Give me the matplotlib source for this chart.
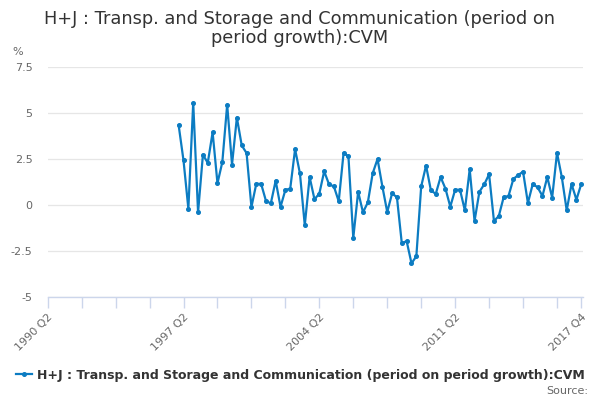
#!/usr/bin/env python3
import numpy as np
import matplotlib
matplotlib.use("Agg")
import matplotlib.pyplot as plt

# quarterly axis from 1990 Q2 to 2017 Q4
start_year, start_q = 1990, 2
n_quarters = 111
labels = []
for k in range(n_quarters):
    q = start_q - 1 + k
    labels.append(f"{start_year + q // 4} Q{q % 4 + 1}")

# series starts at 1997 Q1 (index 27)
first_idx = 27
growth = [
    4.33, 2.42, -0.2, 5.55, -0.4, 2.73, 2.29, 3.95, 1.18, 2.33,
    5.45, 2.2, 4.75, 3.24, 2.82, -0.11, 1.15, 1.15, 0.22, 0.09,
    1.32, -0.1, 0.82, 0.89, 3.03, 1.72, -1.1, 1.52, 0.31, 0.62,
    1.83, 1.12, 1.01, 0.2, 2.83, 2.64, -1.79, 0.72, -0.4, 0.14,
    1.72, 2.5, 1.0, -0.38, 0.63, 0.42, -2.08, -1.96, -3.17, -2.79,
    1.01, 2.14, 0.8, 0.6, 1.52, 0.89, -0.09, 0.83, 0.83, -0.29,
    1.94, -0.87, 0.72, 1.12, 1.67, -0.87, -0.6, 0.42, 0.49, 1.41,
    1.63, 1.81, 0.11, 1.14, 0.96, 0.49, 1.52, 0.4, 2.83, 1.5,
    -0.29, 1.14, 0.29, 1.14,
]
series_name = "H+J : Transp. and Storage and Communication (period on period growth):CVM"
title = "H+J : Transp. and Storage and Communication (period on\nperiod growth):CVM"

y_ticks = [-5, -2.5, 0, 2.5, 5, 7.5]
y_ticklabels = ["-5", "-2.5", "0", "2.5", "5", "7.5"]

x = np.arange(first_idx, first_idx + len(growth))

fig = plt.figure(figsize=(6, 4), dpi=100)
ax = fig.add_axes([47.7 / 600, 103 / 400, 535.5 / 600, 230 / 400])

blue = "#0c7cc2"
ax.plot(x, growth, color=blue, lw=1.6, marker="o", ms=2.6, label=series_name)

ax.set_xlim(0, 110.4)
ax.set_ylim(-5, 7.5)
ax.set_yticks(y_ticks)
ax.set_yticklabels(y_ticklabels)
ax.grid(axis="y", color="#e6e6e6", lw=0.9)
ax.set_axisbelow(True)

for s in ["top", "right", "left"]:
    ax.spines[s].set_visible(False)
ax.spines["bottom"].set_color("#ccd6eb")
ax.spines["bottom"].set_linewidth(1.0)

major = list(range(0, n_quarters, 28))
ax.set_xticks(list(range(0, n_quarters, 7)) + [110], minor=True)
ax.set_xticks(major + [110])
ax.set_xticklabels([labels[i] for i in major] + [labels[110]],
                   rotation=45, ha="right", va="top", rotation_mode="anchor")
ax.tick_params(axis="x", which="both", length=8, color="#ccd6eb", width=1,
               labelsize=8, labelcolor="#666666", pad=3)
ax.tick_params(axis="y", length=0, labelsize=8, labelcolor="#666666", pad=11)

fig.text(0.5, 0.975, title, ha="center", va="top", fontsize=12.8,
         color="#333333", linespacing=1.1)
fig.text(12 / 600, 1 - 52 / 400, "%", fontsize=8, color="#666666", va="center")

leg = fig.legend(loc="center", bbox_to_anchor=(0.5, 1 - 375 / 400),
                 frameon=False, handlelength=1.3, handletextpad=0.4,
                 prop={"weight": "bold", "size": 9})
for t in leg.get_texts():
    t.set_color("#333333")
fig.text(588 / 600, 1 - 391 / 400, "Source:", ha="right", va="center",
         fontsize=8, color="#666666")

fig.savefig("out.png", dpi=100)
plt.close(fig)
